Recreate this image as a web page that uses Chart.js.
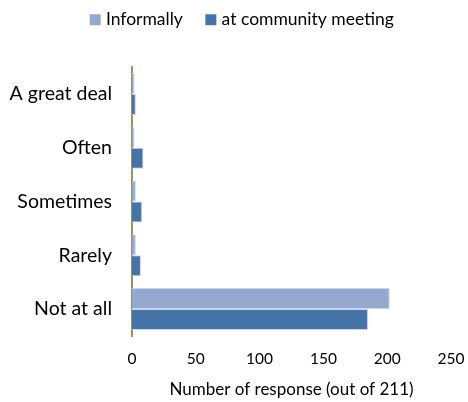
<!DOCTYPE html>
<html>
<head>
<meta charset="utf-8">
<script src="https://cdn.jsdelivr.net/npm/chart.js@4/dist/chart.umd.min.js"></script>
<style>
  html, body { margin: 0; padding: 0; background: #fff; }
  #wrap { width: 468px; height: 402px; }
</style>
</head>
<body>
<div id="wrap"><canvas id="c" width="468" height="402"></canvas></div>
<script>
const categories = ["A great deal", "Often", "Sometimes", "Rarely", "Not at all"];
const informally = [2, 2, 3, 3, 202];
const atCommunityMeeting = [3, 9, 8, 7, 185];
const xTicks = [0, 50, 100, 150, 200, 250];

const FONT = "Lato, 'Open Sans', sans-serif";

// Reserve the empty band under the legend and centre the legend over the plot.
const legendPlacement = {
  id: "legendPlacement",
  beforeInit(chart) {
    const legend = chart.legend;
    const fit = legend.fit;
    legend.fit = function () {
      fit.call(this);
      this.height = 82;
    };
  },
  afterLayout(chart) {
    const legend = chart.legend;
    const shift = 18;
    legend.left += shift;
    legend.right += shift;
  }
};

new Chart(document.getElementById("c"), {
  type: "bar",
  data: {
    labels: categories,
    datasets: [
      {
        label: "Informally",
        data: informally,
        backgroundColor: "#95a9d0",
        borderColor: "#c9d4ea",
        borderWidth: 1,
        borderSkipped: "left"
      },
      {
        label: "at community meeting",
        data: atCommunityMeeting,
        backgroundColor: "#4674a8",
        borderColor: "#c9d4ea",
        borderWidth: 1,
        borderSkipped: "left"
      }
    ]
  },
  plugins: [legendPlacement],
  options: {
    indexAxis: "y",
    responsive: false,
    animation: false,
    devicePixelRatio: 1,
    layout: { padding: { left: 0, right: 17, top: -15, bottom: 2 } },
    datasets: { bar: { categoryPercentage: 0.78, barPercentage: 1.0 } },
    plugins: {
      tooltip: { enabled: false },
      legend: {
        position: "top",
        align: "center",
        labels: {
          // small core square with a thick stroke of the same colour:
          // an 11px swatch that sits close to its text
          boxWidth: 4,
          boxHeight: 4,
          padding: 26,
          color: "#000",
          font: { family: FONT, size: 17.5 },
          generateLabels(chart) {
            return chart.data.datasets.map((ds, i) => ({
              text: ds.label,
              fillStyle: ds.backgroundColor,
              strokeStyle: ds.backgroundColor,
              lineWidth: 7,
              lineJoin: "miter",
              hidden: !chart.isDatasetVisible(i),
              datasetIndex: i
            }));
          }
        }
      }
    },
    scales: {
      x: {
        min: 0,
        max: 250,
        afterBuildTicks: (axis) => { axis.ticks = xTicks.map(v => ({ value: v })); },
        afterFit: (axis) => {
          axis.height = 64;
          // the end labels fit inside the layout padding
          axis.paddingLeft = 0;
          axis.paddingRight = 0;
        },
        grid: { display: false, drawTicks: false },
        border: { display: false },
        ticks: { color: "#000", padding: 14, font: { family: FONT, size: 15.5 } },
        title: {
          display: true,
          text: "Number of response (out of 211)",
          color: "#000",
          padding: { top: 4, bottom: 0 },
          font: { family: FONT, size: 17 }
        }
      },
      y: {
        afterFit: (axis) => { axis.width = 132; },
        grid: { display: false, drawTicks: false },
        border: { display: true, color: "#9a9060", width: 2 },
        ticks: { color: "#000", padding: 20, font: { family: FONT, size: 19.5 } }
      }
    }
  }
});
</script>
</body>
</html>
